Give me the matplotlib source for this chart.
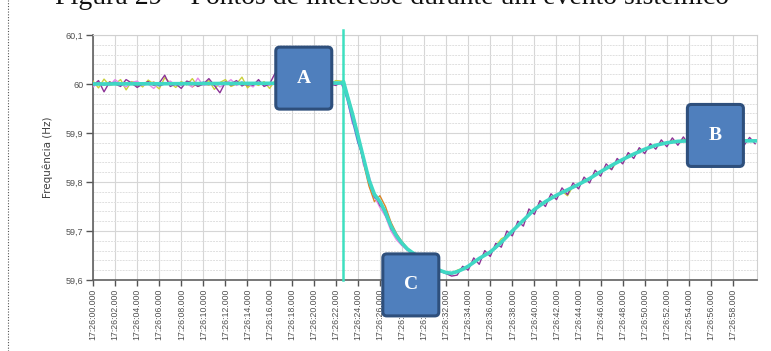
import numpy as np
import matplotlib
matplotlib.use("Agg")
import matplotlib.pyplot as plt
from matplotlib.patches import FancyBboxPatch
from matplotlib.lines import Line2D
from matplotlib.transforms import IdentityTransform
from matplotlib.ticker import FixedLocator, MultipleLocator, FuncFormatter

TITLE = "Figura 29 – Pontos de interesse durante um evento sistêmico"
Y_LABEL = "Frequência (Hz)"

# PMU records, 0.5 s apart from 17:26:00, deviation from 60 Hz in mHz
pmu_yellow = [6, -8, 10, -3, 0, 9, -12, 5, 3, -6, 8, 0, -10, 13, 2, -7, 5, -2, 11, -5, 0, 7, -11,
              3, 9, -5, 0, 14, -8, 2, -3, 5, -9, 7, 0, -5, 11, -2, 5, -7, 2, 9, -5, 0, 7, 6,
              -18, -55, -100, -148, -190, -228, -245, -265, -288, -308, -322, -335, -344, -350,
              -360, -368, -373, -380, -384, -388,
              -380, -376, -374, -362, -358, -346, -345, -330, -316, -310, -302, -287, -281, -263,
              -258, -244, -243, -230, -229, -219, -228, -208, -207, -196, -195, -183, -181, -170,
              -174, -157, -156, -145, -145, -134, -135, -126, -127, -119, -121, -115, -119, -113,
              -118, -114, -119, -113, -117, -114, -118, -115, -113, -118, -115, -117, -114]
pmu_purple = [-3, 7, -16, 4, 0, -5, 9, 2, -7, 0, 5, -3, 2, 18, -5, 0, -9, 6, 2, -5, 0, 11, -3,
              -18, 4, 0, 7, -4, 2, -3, 9, -5, 0, 22, -16, 2, -3, 7, 0, -5, 4, -11, 2, 0, -3, 4,
              -22, -64, -112, -158, -200, -222, -248, -258, -295, -312, -328, -336, -348, -354,
              -366, -372, -378, -383, -387, -392,
              -390, -372, -380, -355, -368, -340, -352, -325, -333, -300, -310, -280, -290, -255,
              -266, -238, -250, -224, -236, -212, -226, -202, -214, -190, -202, -176, -188, -163,
              -175, -152, -163, -140, -152, -130, -142, -122, -133, -114, -128, -110, -125, -108,
              -124, -109, -123, -107, -125, -108, -124, -110, -123, -107, -125, -109, -122]
pmu_orange = [0, 2, -2, 4, 0, -2, 2, 0, -4, 2, 0, 4, -2, 0, 2, -2, 0, 4, -6, 2, 0, -2, 2, 0, 4,
              -2, 0, 2, -4, 0, 2, 0, -2, 4, 0, -2, 2, 0, -4, 2, 0, 2, -2, 0, 2, 3,
              -15, -58, -108, -160, -208, -240, -228, -250, -282, -305, -322, -336, -344, -352,
              -362, -370, -377, -381, -385, -386,
              -383, -377, -371, -364, -357, -349, -342, -334, -323, -312, -300, -289, -278, -266,
              -256, -247, -240, -233, -227, -222, -216, -211, -205, -199, -193, -186, -179, -172,
              -166, -160, -154, -148, -143, -138, -133, -129, -125, -122, -120, -118, -117, -116,
              -116, -117, -115, -116, -117, -116, -115, -116, -117, -116, -115, -116, -116]
pmu_pink = [-6, 3, 0, -3, 9, 0, -6, 3, 6, -3, 0, -9, 3, 0, 6, -3, 3, 0, -6, 12, -3, 0, 3, -6, 0,
            9, -3, 3, 0, -6, 6, 0, -3, 3, -9, 0, 6, -3, 0, 3, -6, 0, 9, -3, 0, 1,
            -25, -80, -95, -165, -185, -230, -252, -270, -300, -318, -330, -340, -350, -356,
            -365, -371, -377, -382, -386, -389,
            -382, -378, -370, -366, -355, -351, -340, -336, -321, -313, -299, -291, -276, -268,
            -255, -249, -239, -235, -226, -223, -215, -212, -204, -200, -192, -187, -178, -173,
            -165, -161, -153, -149, -142, -139, -132, -130, -124, -123, -119, -119, -116, -117,
            -115, -117, -115, -117, -116, -116, -115, -117, -116, -115, -117, -116, -115]
pmu_blue = [2, 0, -2, 0, 4, -2, 0, 2, -2, 0, 0, 2, -4, 0, 2, 0, -2, 2, 0, -2, 4, 0, -2, 0, 2,
            -2, 0, 4, -2, 0, 2, -2, 0, 0, 2, -4, 0, 2, 0, -2, 2, 0, -2, 0, 2, 3,
            -30, -75, -120, -150, -200, -232, -238, -268, -292, -310, -326, -338, -346, -353,
            -363, -371, -377, -382, -386, -387,
            -384, -379, -373, -365, -356, -350, -343, -335, -323, -312, -300, -289, -278, -266,
            -256, -247, -240, -233, -227, -222, -216, -211, -205, -199, -193, -186, -179, -172,
            -166, -160, -154, -148, -143, -138, -133, -129, -125, -122, -120, -118, -117, -116,
            -116, -116, -116, -116, -116, -116, -116, -116, -116, -116, -116, -116, -116]

# averaged curve (seconds after 17:26:00, mHz)
avg_t = [0, 22.5, 22.7, 23.0, 23.5, 24.0, 24.5, 25.0, 25.5, 26.0, 26.5, 27.0, 27.5, 28.0, 28.5,
         29.0, 29.5, 30.0, 30.5, 31.0, 31.5, 32.0, 32.5, 33.0, 33.5, 34.0, 35.0, 36.0, 37.0,
         38.0, 39.0, 40.0, 41.0, 42.0, 43.0, 44.0, 45.0, 46.0, 47.0, 48.0, 49.0, 50.0, 51.0,
         52.0, 53.0, 54.0, 60.2]
avg_f = [0, 2, 5, -20, -60, -105, -150, -195, -225, -240, -262, -290, -310, -325, -337,
         -345, -352, -362, -370, -376, -381, -385, -386, -383, -378, -372, -356, -343, -323,
         -300, -278, -256, -240, -227, -216, -205, -193, -179, -166, -154, -143, -133, -125,
         -120, -117, -116, -116]

x_ticks = list(range(0, 60, 2))  # 17:26:00 .. 17:26:58
event_t = 22.65  # disturbance instant

# markers A, B, C: (label, seconds, Hz)
points = [("A", 19.1, 60.012), ("B", 56.4, 59.895), ("C", 28.8, 59.59)]

series = [(pmu_yellow, "#c9d13c"), (pmu_orange, "#d8862a"), (pmu_pink, "#e68ae8"),
          (pmu_blue, "#5a74d4"), (pmu_purple, "#8c3397")]


def freq_label(v, pos):
    s = f"{v:.2f}".rstrip("0").rstrip(".")
    return s.replace(".", ",")


fig = plt.figure(figsize=(7.71, 3.51), dpi=100)
ax = fig.add_axes([93 / 771, 71 / 351, 664 / 771, 245 / 351])

for vals, col in series:
    t = np.arange(len(vals)) * 0.5
    ax.plot(t, 60 + np.array(vals) / 1000, color=col, lw=1.0, zorder=3)

ax.plot(avg_t, 60 + np.array(avg_f) / 1000, color="#3fd8c4", lw=2.6, zorder=4,
        solid_capstyle="round")
ax.axvline(event_t, ymin=0, ymax=1.02, color="#3ee0c0", lw=1.8, zorder=5, clip_on=False)

ax.set_xlim(0, 60.17)
ax.set_ylim(59.6, 60.1)
ax.xaxis.set_major_locator(FixedLocator(x_ticks))
ax.yaxis.set_major_locator(MultipleLocator(0.1))
ax.yaxis.set_minor_locator(MultipleLocator(0.02))
ax.xaxis.set_major_formatter(FuncFormatter(lambda v, p: f"17:26:{int(round(v)):02d}.000"))
ax.yaxis.set_major_formatter(FuncFormatter(freq_label))
ax.tick_params(axis="x", labelrotation=90, labelsize=6.3, colors="#555555", length=4, width=1, pad=2)
ax.tick_params(axis="y", labelsize=6.5, colors="#555555", length=5, width=1, pad=2)
ax.tick_params(axis="y", which="minor", length=0)
for lab in ax.get_xticklabels() + ax.get_yticklabels():
    lab.set_color("#505050")
    lab.set_family("Liberation Sans")

ax.grid(True, which="major", axis="both", color="#d6d6d6", lw=0.8)
ax.grid(True, which="minor", axis="y", color="#e0e0e0", lw=0.7, ls=(0, (2, 1)))
ax.set_axisbelow(True)
for side in ("top", "right"):
    ax.spines[side].set_color("#d0d0d0")
for side in ("left", "bottom"):
    ax.spines[side].set_color("#606060")
    ax.spines[side].set_linewidth(1.2)

ax.set_ylabel(Y_LABEL, fontsize=7.5, color="#404040", labelpad=9)

fig.text(392 / 771, 1 - 4 / 351, TITLE, family="Liberation Serif", fontsize=20,
         ha="center", va="baseline", color="#111111")

# dotted page frame on the left
fig.add_artist(Line2D([8 / 771, 8 / 771], [0, 1], ls=(0, (1, 1.5)), color="#555555", lw=0.8))

# labelled boxes
fig.canvas.draw()
for label, t, f in points:
    cx, cy = ax.transData.transform((t, f))
    w, h = 56, 62
    box = FancyBboxPatch((cx - w / 2, cy - h / 2), w, h, boxstyle="round,pad=0,rounding_size=4",
                         transform=IdentityTransform(), facecolor="#4f7fbd",
                         edgecolor="#2e4f7c", lw=2.2, zorder=10)
    fig.add_artist(box)
    fig.text(cx / 771, cy / 351, label, family="Liberation Serif", fontsize=14,
             fontweight="bold", color="white", ha="center", va="center", zorder=11)

fig.savefig("out.png", dpi=100)
